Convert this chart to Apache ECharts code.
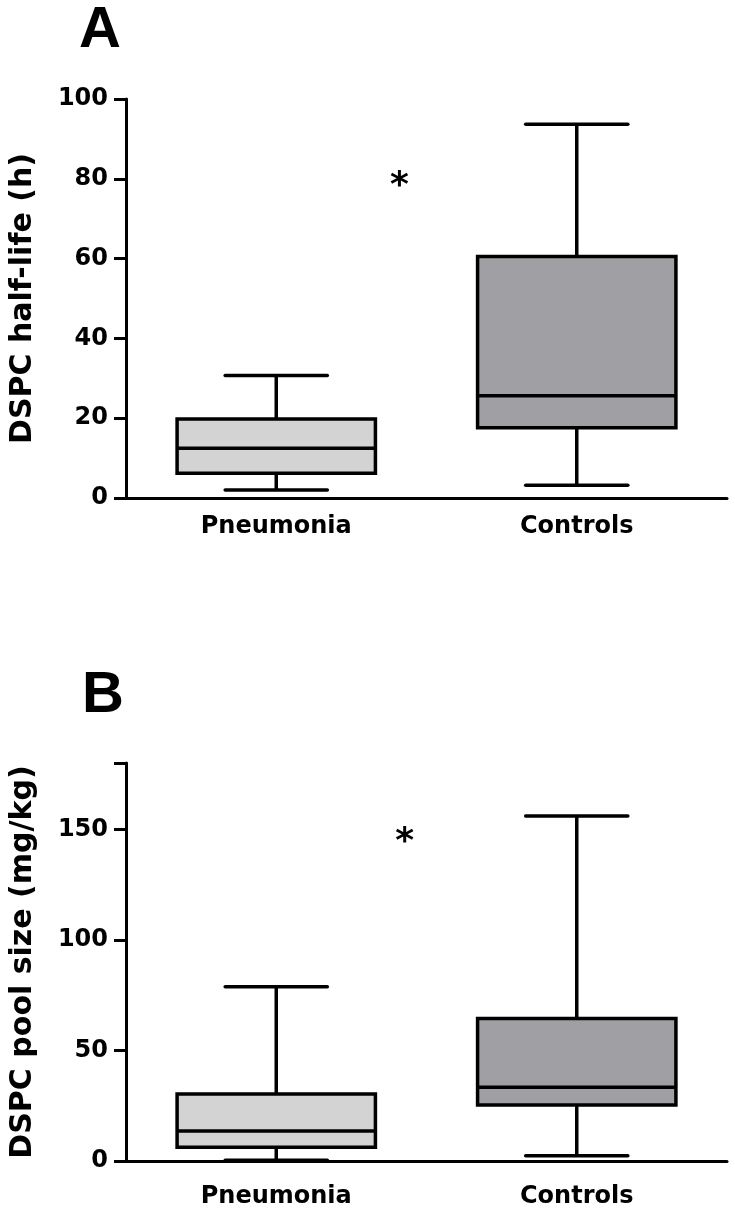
<!DOCTYPE html>
<html><head><meta charset="utf-8">
<script src="https://cdn.jsdelivr.net/npm/echarts@6/dist/echarts.min.js"></script>
<style>html,body{margin:0;padding:0;background:#fff}#c{width:735px;height:1213px}</style>
</head><body><div id="c"></div>
<script>
const categories = ['Pneumonia', 'Controls'];
// each row: [min, Q1, median, Q3, max]
const halfLifeStats = [[2.0, 6.2, 12.5, 19.8, 30.7], [3.2, 17.6, 25.6, 60.5, 93.7]];
const poolSizeStats = [[0.3, 6.2, 13.6, 30.3, 78.8], [2.4, 25.3, 33.3, 64.5, 156]];
const halfLifeTicks = [0, 20, 40, 60, 80, 100];
const poolSizeTicks = [0, 50, 100, 150, 180];
const poolSizeLabels = [0, 50, 100, 150];
const sigA = [0.41, 78];   // [fraction between categories, value]
const sigB = [0.427, 144];
const boxColors = ['#d3d3d3', '#a0a0a4'];
const FONT = 'DejaVu Sans';

const chart = echarts.init(document.getElementById('c'));

function boxRender(params, api) {
  const ci = api.value(0);
  const v = [1, 2, 3, 4, 5].map(i => api.value(i));
  const p = v.map(val => api.coord([ci, val]));
  const band = api.size([1, 0])[0];
  const bw = band * 0.66 / 2, cw = band * 0.34 / 2;
  const x = p[0][0];
  const ls = { stroke: '#000', lineWidth: 3.5 };
  return { type: 'group', children: [
    { type: 'line', shape: { x1: x, y1: p[3][1], x2: x, y2: p[4][1] }, style: ls },
    { type: 'line', shape: { x1: x, y1: p[1][1], x2: x, y2: p[0][1] }, style: ls },
    { type: 'line', shape: { x1: x - cw, y1: p[4][1], x2: x + cw, y2: p[4][1] }, style: Object.assign({ lineCap: 'round' }, ls) },
    { type: 'line', shape: { x1: x - cw, y1: p[0][1], x2: x + cw, y2: p[0][1] }, style: Object.assign({ lineCap: 'round' }, ls) },
    { type: 'rect', shape: { x: x - bw, y: p[3][1], width: 2 * bw, height: p[1][1] - p[3][1] }, style: { fill: boxColors[ci], stroke: '#000', lineWidth: 3.5 } },
    { type: 'line', shape: { x1: x - bw, y1: p[2][1], x2: x + bw, y2: p[2][1] }, style: ls }
  ]};
}
function sigRender(sig) {
  return function (params, api) {
    const a = api.coord([0, api.value(1)]);
    const b = api.coord([1, api.value(1)]);
    return { type: 'text', x: a[0] + (b[0] - a[0]) * sig[0], y: a[1],
      style: { text: '*', fontFamily: FONT, fontWeight: 'bold', fontSize: 36, fill: '#000', align: 'center', verticalAlign: 'middle' } };
  };
}
function xAxisOpt(gi, margin) {
  return { type: 'category', gridIndex: gi, data: categories, boundaryGap: true,
    axisLine: { lineStyle: { color: '#000', width: 3 } }, axisTick: { show: false },
    axisLabel: { color: '#000', fontFamily: FONT, fontWeight: 'bold', fontSize: 24, margin: margin },
    splitLine: { show: false } };
}
function yAxisOpt(gi, name, max, ticks, labels, gap) {
  return { type: 'value', gridIndex: gi, min: 0, max: max, name: name, nameLocation: 'middle', nameGap: gap,
    nameTextStyle: { color: '#000', fontFamily: FONT, fontWeight: 'bold', fontSize: 30 },
    axisLine: { show: true, lineStyle: { color: '#000', width: 3 } },
    axisTick: { show: true, length: 12, lineStyle: { color: '#000', width: 3 }, customValues: ticks },
    axisLabel: { color: '#000', fontFamily: FONT, fontWeight: 'bold', fontSize: 24, margin: 18, customValues: labels },
    splitLine: { show: false } };
}

chart.setOption({
  animation: false,
  backgroundColor: '#fff',
  grid: [
    { left: 125, top: 99, width: 602, height: 399 },
    { left: 125, top: 763, width: 602, height: 398 }
  ],
  xAxis: [xAxisOpt(0, 17), xAxisOpt(1, 24)],
  yAxis: [
    yAxisOpt(0, 'DSPC half-life (h)', 100, halfLifeTicks, halfLifeTicks, 88),
    yAxisOpt(1, 'DSPC pool size (mg/kg)', 180, poolSizeTicks, poolSizeLabels, 88)
  ],
  graphic: [
    { type: 'text', left: 79, top: 2, style: { text: 'A', fontFamily: 'Liberation Sans', fontWeight: 'bold', fontSize: 58, fill: '#000' } },
    { type: 'text', left: 82, top: 667, style: { text: 'B', fontFamily: 'Liberation Sans', fontWeight: 'bold', fontSize: 58, fill: '#000' } }
  ],
  series: [
    { type: 'custom', xAxisIndex: 0, yAxisIndex: 0, renderItem: boxRender, encode: { x: 0, y: [1, 2, 3, 4, 5] },
      data: halfLifeStats.map((s, i) => [i].concat(s)) },
    { type: 'custom', xAxisIndex: 1, yAxisIndex: 1, renderItem: boxRender, encode: { x: 0, y: [1, 2, 3, 4, 5] },
      data: poolSizeStats.map((s, i) => [i].concat(s)) },
    { type: 'custom', xAxisIndex: 0, yAxisIndex: 0, renderItem: sigRender(sigA), encode: { x: 0, y: 1 }, data: [[0, sigA[1]]] },
    { type: 'custom', xAxisIndex: 1, yAxisIndex: 1, renderItem: sigRender(sigB), encode: { x: 0, y: 1 }, data: [[0, sigB[1]]] }
  ]
});
</script></body></html>
